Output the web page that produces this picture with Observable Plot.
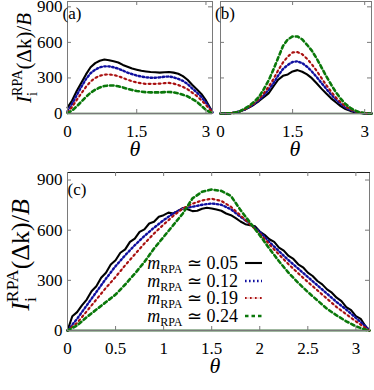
<!DOCTYPE html>
<html><head><meta charset="utf-8">
<script src="https://cdn.jsdelivr.net/npm/d3@7"></script>
<script src="https://cdn.jsdelivr.net/npm/@observablehq/plot@0.6"></script>
<style>
body{margin:0;background:#fff;}
#wrap{position:relative;width:374px;height:390px;overflow:hidden;}
#wrap svg{position:absolute;}
#wrap svg text{font-family:'Liberation Serif';}
</style></head><body><div id="wrap"></div>
<script>
// ---------- data ----------
const theta = [0,0.1,0.2,0.3,0.4,0.5,0.6,0.7,0.8,0.9,1.0,1.1,1.2,1.3,1.4,1.5,1.6,1.7,1.8,1.9,2.0,2.1,2.2,2.3,2.4,2.5,2.6,2.7,2.8,2.9,3.0,3.1,3.1416];
const thetaFine = [0,0.05,0.1,0.15,0.2,0.25,0.3,0.35,0.4,0.45,0.5,0.55,0.6,0.65,0.7,0.75,0.8,0.85,0.9,0.95,1.0,1.05,1.1,1.15,1.2,1.25,1.3,1.35,1.4,1.45,1.5,1.55,1.6,1.65,1.7,1.75,1.8,1.85,1.9,1.95,2.0,2.05,2.1,2.15,2.2,2.25,2.3,2.35,2.4,2.45,2.5,2.55,2.6,2.65,2.7,2.75,2.8,2.85,2.9,2.95,3.0,3.05,3.1,3.1416];

const mLabels = ["0.05","0.12","0.19","0.24"];
const xTicksTop = [0,1.5,3];
const xTicksBottom = [0,0.5,1,1.5,2,2.5,3];
const yTicks = [0,300,600,900];

// panel (a)
const aBlack = [50,110,190,260,330,390,425,445,455,450,440,430,410,395,380,370,360,355,350,348,345,348,350,345,335,315,285,242,205,165,110,40,10];
const aBlue  = [20,80,155,225,290,340,370,390,398,398,390,378,362,345,332,320,312,305,302,302,305,310,312,305,292,275,250,212,178,140,92,35,8];
const aRed   = [10,55,115,170,225,270,300,318,328,330,325,315,300,285,272,262,255,250,250,250,252,256,258,252,240,225,205,176,148,112,72,28,5];
const aGreen = [5,25,60,100,140,175,200,220,232,237,236,230,220,208,198,190,184,180,178,178,178,180,182,178,170,158,145,122,100,65,30,8,3];

// panel (b)
const bBlack = [0,0,2,8,18,32,52,76,105,138,170,228,285,318,330,355,366,352,330,298,255,210,168,128,95,62,38,22,10,4,1,0,0];
const bBlue  = [0,0,2,8,18,33,54,80,112,152,200,255,320,375,410,435,440,425,395,355,308,258,208,160,118,82,52,30,15,6,2,0,0];
const bRed   = [0,0,2,8,18,34,56,86,122,170,225,290,365,430,480,515,518,500,462,415,360,300,240,185,135,95,60,36,18,7,2,0,0];
const bGreen = [0,0,2,7,18,40,65,98,140,205,278,370,470,570,625,650,650,625,580,530,465,390,315,245,180,125,80,48,25,10,3,0,0];

// panel (c)
const cBlack = [0,85,110,150,185,235,265,315,345,395,420,465,485,530,550,590,605,640,650,680,690,705,700,715,732,725,714,716,728,734,730,724,716,700,690,672,652,636,630,624,592,572,546,530,496,478,446,428,396,378,346,326,296,276,246,226,196,176,140,122,86,70,25,0];
const cBlue  = [0,70,150,230,310,385,450,510,565,615,660,700,730,740,752,760,752,725,680,638,590,530,474,420,370,320,270,220,170,125,75,25,0];
const cRed   = [0,45,115,185,255,320,390,455,520,580,634,685,730,758,778,788,775,740,688,635,580,515,454,396,342,290,240,190,140,97,55,15,0];
const cGreen = [0,30,80,125,170,215,275,340,410,490,560,630,700,790,830,843,835,805,720,645,570,490,414,345,285,230,180,130,90,55,25,5,0];

// ---------- styles ----------
const styles = [
  [{stroke:"#000000", strokeWidth:2.1}],
  [{stroke:"#1010a0", strokeWidth:2.4, strokeDasharray:"1.6,2.4"}],
  [{stroke:"#e89a9a", strokeWidth:0.8}, {stroke:"#a81010", strokeWidth:2.2, strokeDasharray:"1.6,3.4"}],
  [{stroke:"#0a780a", strokeWidth:2.6, strokeDasharray:"3.5,3"}]
];
const serif = "Liberation Serif";
const frameColor = "#7a7a7a";

function rows(th, vals){ return th.map((t,i)=>({theta:t, v:vals[i]})); }

function panel({width,height,mL,mR,mT,mB,xTicks,showY,series,zeroColor,zeroWidth,topColor}){
  const W = width-mL-mR, H = height-mT-mB, tl = 4;
  const marks = [
    Plot.ruleY([0], {stroke: zeroColor, strokeWidth: zeroWidth}),
    ...series.flatMap((s,i)=>styles[i].map(st=>Plot.line(rows(s.th, s.vals), {x:"theta", y:"v", ...st, strokeLinejoin:"round"}))),
    Plot.frame({stroke: frameColor}),
    Plot.frame({anchor:"top", stroke: topColor || frameColor}),
    Plot.ruleX(xTicks, {x:d=>d, insetTop:H-tl, stroke:frameColor}),
    Plot.ruleX(xTicks, {x:d=>d, insetBottom:H-tl, stroke:frameColor}),
    Plot.ruleY(yTicks, {y:d=>d, insetRight:W-tl, stroke:frameColor}),
    Plot.ruleY(yTicks, {y:d=>d, insetLeft:W-tl, stroke:frameColor}),
    Plot.axisX({ticks:xTicks, tickSize:0, tickPadding:11, label:null, tickFormat:d=>String(d), fontFamily:serif, fontSize:17})
  ];
  if (showY) marks.push(Plot.axisY({ticks:yTicks, tickSize:0, tickPadding:5, label:null, tickFormat:d=>String(d), fontFamily:serif, fontSize:17}));
  return Plot.plot({
    width, height, marginLeft:mL, marginRight:mR, marginTop:mT, marginBottom:mB,
    x:{domain:[0,Math.PI]},
    y:{domain:[0,945], axis: showY ? undefined : null},
    style:{fontFamily:serif, fontSize:"17px", background:"transparent", overflow:"visible"},
    marks
  });
}

const wrap = document.getElementById("wrap");

const A = panel({width:216,height:160,mL:67,mR:4,mT:1,mB:47,xTicks:xTicksTop,showY:true,
  series:[{th:theta,vals:aBlack},{th:theta,vals:aBlue},{th:theta,vals:aRed},{th:theta,vals:aGreen}],
  zeroColor:"#1d4d1d", zeroWidth:1.5});
A.style.left="0px"; A.style.top="0px";
const B = panel({width:158,height:160,mL:4,mR:3,mT:1,mB:47,xTicks:xTicksTop,showY:false,
  series:[{th:theta,vals:bBlack},{th:theta,vals:bBlue},{th:theta,vals:bRed},{th:theta,vals:bGreen}],
  zeroColor:"#1d4d1d", zeroWidth:1.5});
B.style.left="216px"; B.style.top="0px";
const C = panel({width:374,height:230,mL:67,mR:5,mT:12,mB:60,xTicks:xTicksBottom,showY:true,
  series:[{th:thetaFine,vals:cBlack},{th:theta,vals:cBlue},{th:theta,vals:cRed},{th:theta,vals:cGreen}],
  zeroColor:"#7f9f7f", zeroWidth:2.5, topColor:"#222"});
C.style.left="0px"; C.style.top="160px";
wrap.append(A,B,C);

// ---------- annotations ----------
function tag(svg, x, y, s){
  d3.select(svg).append("text").attr("x",x).attr("y",y).attr("font-family",serif)
    .attr("font-size",17).text(s);
}
tag(A, 72, 19, "(a)"); tag(B, 9, 19, "(b)"); tag(C, 77, 35, "(c)");

function thetaLabel(svg, x, y, size){
  d3.select(svg).append("text").attr("x",x).attr("y",y).attr("text-anchor","middle")
    .attr("font-family",serif).attr("font-style","italic").attr("font-size",size).text("θ");
}
thetaLabel(A, 135, 156, 22); thetaLabel(B, 79, 156, 22); thetaLabel(C, 215, 213, 22);

function yLabel(svg, x, y, fs){
  const t = d3.select(svg).append("text").attr("transform",`translate(${x},${y}) rotate(-90)`)
    .attr("text-anchor","middle").attr("font-family",serif).attr("font-size",fs);
  t.append("tspan").attr("font-style","italic").text("I");
  const sfs = fs*0.68;
  t.append("tspan").attr("font-size",sfs).attr("dy",fs*0.28).text("i");
  t.append("tspan").attr("font-size",sfs).attr("dx",-sfs*0.28).attr("dy",-fs*0.72).text("RPA");
  t.append("tspan").attr("dy",fs*0.44).text("(Δk)/");
  t.append("tspan").attr("font-style","italic").text("B");
}
yLabel(A, 31, 58, 21);
yLabel(C, 29, 95, 26);

// legend
const legendY = [103,121,138,156];
const gl = d3.select(C).append("g");
mLabels.forEach((m,i)=>{
  const t = gl.append("text").attr("x",238).attr("y",legendY[i]).attr("dy","0.35em")
    .attr("text-anchor","end").attr("font-family",serif).attr("font-size",18);
  t.append("tspan").attr("font-style","italic").text("m");
  t.append("tspan").attr("font-size",12).attr("dy",4).text("RPA");
  t.append("tspan").attr("dy",-4).text(" ≃ "+m);
  styles[i].forEach(st=>{
    gl.append("line").attr("x1",245).attr("x2",262).attr("y1",legendY[i]).attr("y2",legendY[i])
      .attr("stroke",st.stroke).attr("stroke-width",st.strokeWidth)
      .attr("stroke-dasharray",st.strokeDasharray || null);
  });
});
</script></body></html>
